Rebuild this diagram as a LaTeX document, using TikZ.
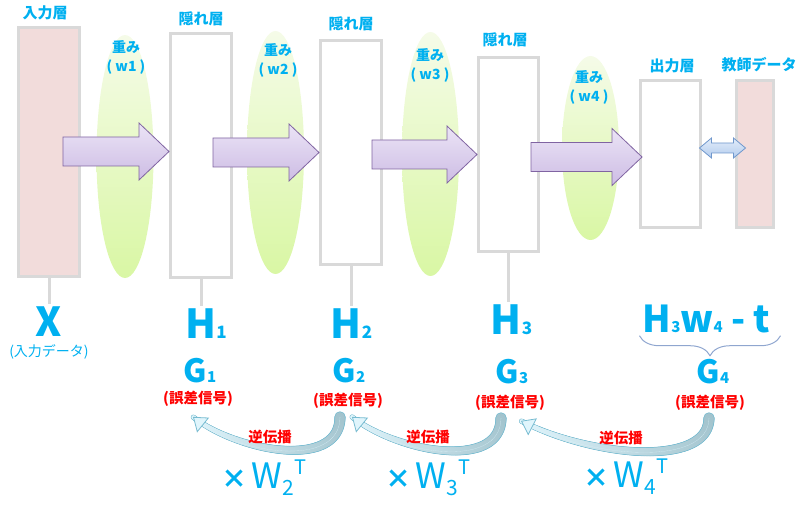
\documentclass[tikz,border=0pt]{standalone}
\usepackage{fontspec}
\setmainfont{Noto Sans CJK JP}
\usetikzlibrary{arrows.meta, positioning, calc, shapes.geometric, decorations.pathreplacing, decorations.markings}

\definecolor{txtcyan}{HTML}{00B0F0}
\definecolor{txtred}{HTML}{FF0000}
\definecolor{boxgray}{HTML}{D9D9D9}
\definecolor{inpink}{HTML}{F2DCDB}
\definecolor{fwdedge}{HTML}{8064A2}
\definecolor{fwdtop}{HTML}{EBE4F6}
\definecolor{fwdbot}{HTML}{CDBCE4}
\definecolor{elltop}{HTML}{F5FBE8}
\definecolor{ellbot}{HTML}{D9F7A4}
\definecolor{cmpedge}{HTML}{6F97CC}
\definecolor{cmptop}{HTML}{E2ECF9}
\definecolor{cmpbot}{HTML}{B3CCEE}
\definecolor{banddark}{HTML}{A2C3CD}
\definecolor{bandlight}{HTML}{E0F5FC}
\definecolor{bandedge}{HTML}{78BCD1}
\definecolor{bracecol}{HTML}{8FA6CF}

% forward block arrow: total length, tip
\newcommand{\fwdarrow}[2]{%
  \draw[fwdbody] (#2) -- ++(-30,-28.5) -- ++(0,14) -- ++(-#1+30,0) -- ++(0,29) -- ++(#1-30,0) -- ++(0,14) -- cycle;}
% back propagation band: start, end, controls
\newcommand{\backprop}[3]{%
  \path[bandrim] (#1) .. controls #3 .. (#2);
  \path[bandmarks] (#1) .. controls #3 .. (#2);
  \draw[bandtip] (#1) .. controls #3 .. (#2);}
\newcommand{\lsub}[2][17]{{\fontsize{#1}{#1}\selectfont #2}}
\newcommand{\wt}[1]{{\fontsize{26}{26}\selectfont\bfseries ×}\hspace{4pt}W\raisebox{-7pt}{\fontsize{21}{21}\selectfont #1}\hspace{1pt}\raisebox{14pt}{\fontsize{20}{20}\selectfont T}}

\begin{document}
\begin{tikzpicture}[x=1pt, y=-1pt,
    layerbox/.style={rectangle, draw=boxgray, line width=3pt, fill=white, inner sep=0pt},
    wellipse/.style={ellipse, top color=elltop, bottom color=ellbot, draw=none, inner sep=0pt, minimum width=57},
    layertag/.style={text=txtcyan, inner sep=1pt, font=\fontsize{15}{15}\selectfont\bfseries},
    wlabel/.style={text=txtcyan, inner sep=1pt, align=center, font=\fontsize{14}{19}\selectfont\bfseries},
    biglbl/.style={text=txtcyan, anchor=base, inner sep=2pt, font=\fontsize{40}{40}\selectfont\bfseries},
    glbl/.style={biglbl, font=\fontsize{32}{32}\selectfont\bfseries},
    errlbl/.style={text=txtred, inner sep=1pt, font=\fontsize{14.5}{15}\selectfont\bfseries},
    wtlbl/.style={text=txtcyan, anchor=base, inner sep=1pt, font=\fontsize{35}{35}\selectfont},
    stemline/.style={draw=boxgray, line width=3pt},
    fwdbody/.style={draw=fwdedge, line width=0.8pt, top color=fwdtop, bottom color=fwdbot},
    cmpbody/.style={draw=cmpedge, line width=0.8pt, top color=cmptop, bottom color=cmpbot},
    bandrim/.style={decoration={markings,
        mark=between positions 0 and 1 step 0.7pt with {%
          \pgfmathsetmacro{\bpos}{\pgfkeysvalueof{/pgf/decoration/mark info/distance from start}/\pgfdecoratedpathlength}%
          \pgfmathsetmacro{\brad}{5.6-3*\bpos}%
          \fill[bandedge] (0,0) circle (\brad pt);}}, decorate},
    bandmarks/.style={decoration={markings,
        mark=between positions 0 and 1 step 0.7pt with {%
          \pgfmathsetmacro{\bpos}{\pgfkeysvalueof{/pgf/decoration/mark info/distance from start}/\pgfdecoratedpathlength}%
          \pgfmathtruncatemacro{\bmix}{100*\bpos}%
          \pgfmathsetmacro{\brad}{4.8-2.8*\bpos}%
          \fill[bandlight!\bmix!banddark] (0,0) circle (\brad pt);}}, decorate},
    bandtip/.style={draw=bandlight, line width=0.1pt,
        -{Triangle[length=13pt, width=19pt, fill=bandlight, color=bandedge, line width=0.8pt]}},
    bracedeco/.style={draw=bracecol, line width=1pt, decorate, decoration={brace, mirror, amplitude=20pt}}
]
\useasboundingbox (0,0) rectangle (811,505);

% Layers
\node[layerbox, fill=inpink, minimum width=61, minimum height=249] (in) at (49,152) {};
\node[layerbox, minimum width=61, minimum height=244] (h1) at (201,155.5) {};
\node[layerbox, minimum width=61, minimum height=224] (h2) at (351,152.5) {};
\node[layerbox, minimum width=60, minimum height=194] (h3) at (508.5,154.5) {};
\node[layerbox, minimum width=60, minimum height=147] (out) at (670.5,154) {};
\node[layerbox, fill=inpink, minimum width=37, minimum height=147] (teach) at (755,154) {};

% Weights
\node[wellipse, minimum height=243] (ell1) at (125,156.5) {};
\node[wellipse, minimum height=243] (ell2) at (275.5,152.5) {};
\node[wellipse, minimum height=244] (ell3) at (430.5,154) {};
\node[wellipse, minimum height=184] (ell4) at (590.5,148) {};

% Forward arrows
\fwdarrow{106}{$(h1.west)+(0,-4)$}
\fwdarrow{106}{h2.west}
\fwdarrow{105}{h3.west}
\fwdarrow{111}{$(out.east)+(-60,3)$}

% Output vs teacher
\coordinate (cmpL) at ($(out.east)+(-2.5,-6)$);
\draw[cmpbody] (cmpL) -- ++(12,-10) -- ++(0,5) -- ++(22,0) -- ++(0,-5) -- ++(12,10)
  -- ++(-12,10) -- ++(0,-5) -- ++(-22,0) -- ++(0,5) -- cycle;

% Labels above
\node[layertag] (tagin) at (45,13) {入力層};
\node[layertag] (tagh1) at (201,19) {隠れ層};
\node[layertag] (tagh2) at (351,24) {隠れ層};
\node[layertag] (tagh3) at (505,40) {隠れ層};
\node[layertag] (tagout) at (672,66) {出力層};
\node[layertag] (tagteach) at (759,65) {教師データ};

\node[wlabel] (wl1) at (126,57.5) {重み\\( w1 )};
\node[wlabel] (wl2) at (278,60.5) {重み\\( w2 )};
\node[wlabel] (wl3) at (430,65.5) {重み\\( w3 )};
\node[wlabel] (wl4) at (589,87) {重み\\( w4 )};

% Values below
\node[biglbl] (X) at (49,336) {X};
\node[text=txtcyan, inner sep=1pt, font=\fontsize{14}{14}\selectfont, below=5pt of X] (xnote) {(入力データ)};
\node[biglbl] (H1) at (206,338) {H\lsub{1}};
\node[biglbl] (H2) at (351.5,338) {H\lsub{2}};
\node[biglbl] (H3) at (511.5,334) {H\lsub{3}};
\node[biglbl, font=\fontsize{37}{37}\selectfont\bfseries] (hw) at (706.5,332) {H\lsub[15]{3}w\lsub[15]{4} - t};

\draw[stemline] (in.south) -- (in.south |- X.north);
\draw[stemline] (h1.south) -- (h1.south |- H1.north);
\draw[stemline] (h2.south) -- (h2.south |- H2.north);
\draw[stemline] (h3.south) -- (h3.south |- H3.north);

\node[glbl] (G1) at (200,382) {G\lsub[15]{1}};
\node[glbl] (G2) at (349,382) {G\lsub[15]{2}};
\node[glbl] (G3) at (512,383) {G\lsub[15]{3}};
\node[glbl] (G4) at (713,383) {G\lsub[15]{4}};
\draw[bracedeco] ($(hw.south west)+(-1,1)$) -- ($(hw.south east)+(8,1)$);

\node[errlbl] (e1) at (198,399) {(誤差信号)};
\node[errlbl] (e2) at (348,401) {(誤差信号)};
\node[errlbl] (e3) at (510,403) {(誤差信号)};
\node[errlbl] (e4) at (710,403) {(誤差信号)};

% Back propagation
\backprop{$(e2.south)+(-8,7)$}{$(e1.south)+(-5,9)$}{+(0,54) and +(42,34)}
\backprop{$(e3.south)+(-9,6)$}{$(e2.south)+(4,7)$}{+(0,54) and +(42,34)}
\backprop{$(e4.south)+(-1,6)$}{$(e3.south)+(11,9)$}{+(0,50) and +(70,36)}

\node[errlbl] (bp1) at (270,437) {逆伝播};
\node[errlbl] (bp2) at (428,437) {逆伝播};
\node[errlbl] (bp3) at (621,438) {逆伝播};

\node[wtlbl] (wt2) at (264,488) {\wt{2}};
\node[wtlbl] (wt3) at (428,488) {\wt{3}};
\node[wtlbl] (wt4) at (626,487) {\wt{4}};

\end{tikzpicture}
\end{document}
